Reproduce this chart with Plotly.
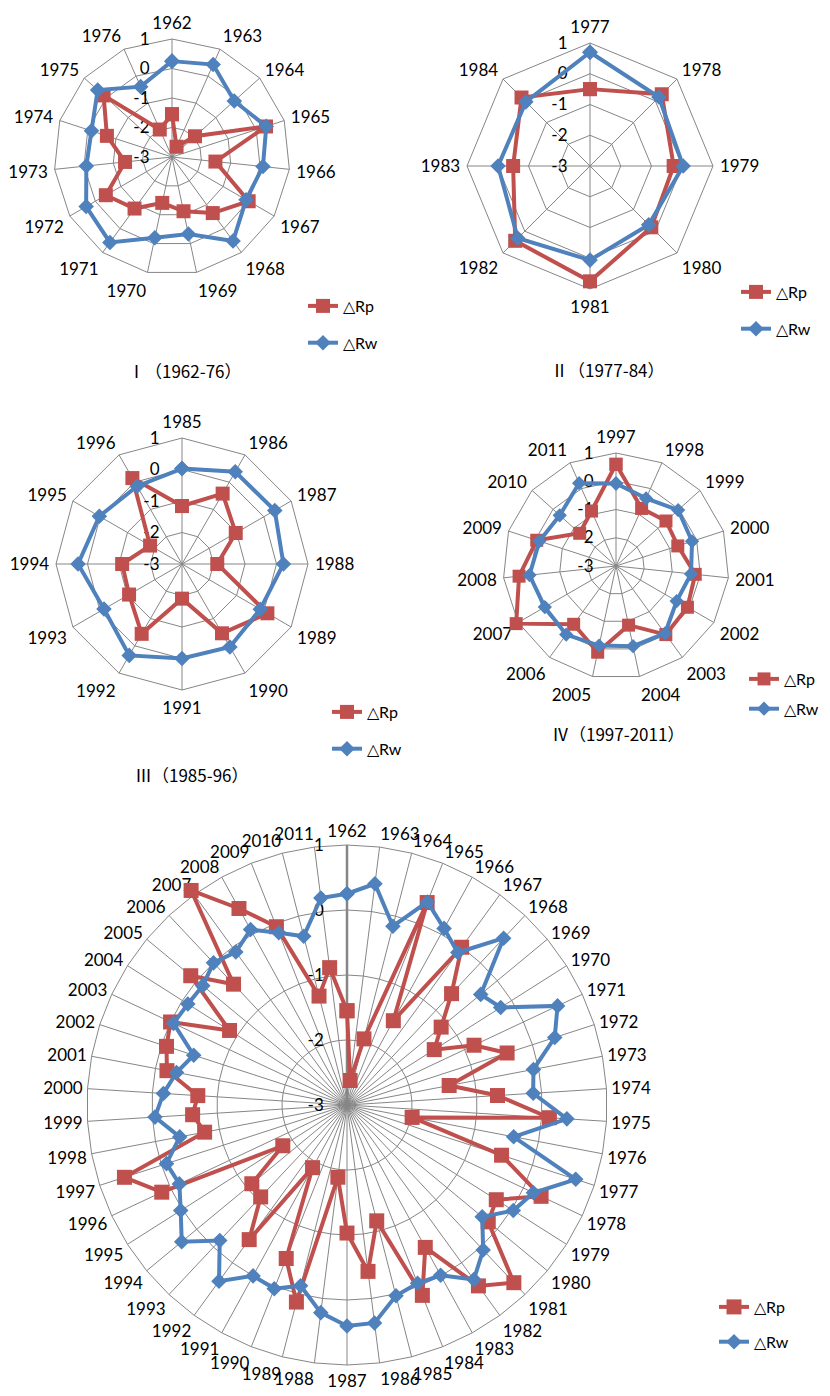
import plotly.graph_objects as go

# ---------------- data ----------------
years = [str(y) for y in range(1962, 2012)]

delta_rp = [
    -1.55, -2.62, -1.95, 0.35, -1.52, 0.00, -0.65, -1.12, -1.41, -0.84,   # 1962-1971
    -0.41, -1.40, -0.68, 0.12, -1.98, -0.50, 0.30, -0.28, -0.18, 0.75,    # 1972-1981
    0.44, -0.50, 0.15, -1.16, -0.42, -1.03, -1.88, 0.13, -0.46, -1.90,    # 1982-1991
    -0.44, -1.06, -1.10, -1.83, 0.15, 0.60, -0.77, -0.62, -0.70, -0.18,   # 1992-2001
    -0.08, 0.00, -0.86, 0.12, -0.45, 1.08, 0.45, -0.05, -1.27, -0.87,     # 2002-2011
]
delta_rw = [
    0.25, 0.43, -0.16, 0.36, 0.10, -0.10, 0.52, -0.33, -0.20, 0.58,       # 1962-1971
    0.36, -0.08, -0.13, 0.39, -0.39, 0.70, 0.17, 0.03, -0.30, 0.06,       # 1972-1981
    0.32, -0.01, -0.05, 0.03, 0.38, 0.40, 0.22, -0.13, 0.04, 0.00,        # 1982-1991
    0.35, -0.14, 0.30, 0.03, -0.15, -0.08, -0.38, -0.04, -0.17, -0.33,    # 1992-2001
    -0.52, -0.05, -0.10, -0.12, 0.00, -0.09, 0.08, -0.15, -0.32, 0.21,    # 2002-2011
]

series_names = ["△Rp", "△Rw"]
radial_ticks = [-3, -2, -1, 0, 1]
radial_labels = ["-3", "-2", "-1", "0", "1"]
period_titles = ["Ⅰ（1962-76）", "Ⅱ（1977-84）", "Ⅲ（1985-96）", "Ⅳ（1997-2011）", None]
period_ranges = [(1962, 1976), (1977, 1984), (1985, 1996), (1997, 2011), (1962, 2011)]

# ---------------- style / layout ----------------
RED = "#C0504D"
BLUE = "#4F81BD"
GRID = "#868686"
PAGE_W, PAGE_H = 830, 1396
OFF = 8                         # default page body margin
W, H = PAGE_W - OFF, PAGE_H - OFF
FONT = "Lato, 'Liberation Sans', Arial, sans-serif"
R_MIN, R_MAX = -3, 1            # grid range
R_MAX_DATA = 1.25               # data overlay range (same scale, avoids clipping)
SCALE = (R_MAX_DATA - R_MIN) / (R_MAX - R_MIN)


def fx(px):
    return (px - OFF) / W


def fy(py):
    return 1 - (py - OFF) / H


# page-pixel geometry of each panel
panels = [
    dict(cx=172, cy=157, R=118, leg=(303, 289), gap=13, title=(185, 370), tl=3, ms=(14, 12)),
    dict(cx=590, cy=166, R=123, leg=(736, 275), gap=13, title=(608, 369), tl=3, ms=(14, 12)),
    dict(cx=182, cy=564, R=126, leg=(327, 695), gap=13, title=(192, 774), tl=3, ms=(14, 12)),
    dict(cx=616, cy=566, R=113, leg=(744, 662), gap=6, title=(618, 733), tl=3, ms=(13, 11)),
    dict(cx=347, cy=1105, R=260, leg=(714, 1290), gap=11, title=None, tl=1, ms=(15, 12)),
]
n = len(panels)


def dom(cx, cy, R):
    return dict(x=[fx(cx - R), fx(cx + R)], y=[fy(cy + R), fy(cy - R)])


fig = go.Figure()
layout = {}
annotations = []

for i, (p, (y0, y1), ttl) in enumerate(zip(panels, period_ranges, period_titles)):
    idx = [k for k, y in enumerate(years) if y0 <= int(y) <= y1]
    cats = [years[k] for k in idx]
    rp = [delta_rp[k] for k in idx]
    rw = [delta_rw[k] for k in idx]
    theta = cats + cats[:1]
    gname = "polar" if i == 0 else f"polar{i + 1}"      # grid subplot
    dname = f"polar{n + i + 1}"                          # data overlay subplot
    lname = "legend" if i == 0 else f"legend{i + 1}"

    # invisible trace so the grid subplot knows its categories
    fig.add_trace(go.Scatterpolar(
        r=rp, theta=cats, mode="lines", line=dict(color="rgba(0,0,0,0)", width=0),
        showlegend=False, hoverinfo="skip", subplot=gname,
    ))
    fig.add_trace(go.Scatterpolar(
        r=rp + rp[:1], theta=theta, mode="lines+markers", name=series_names[0],
        line=dict(color=RED, width=4),
        marker=dict(symbol="square", size=p["ms"][0], color=RED),
        subplot=dname, legend=lname, legendgroup=f"rp{i}", cliponaxis=False,
    ))
    fig.add_trace(go.Scatterpolar(
        r=rw + rw[:1], theta=theta, mode="lines+markers", name=series_names[1],
        line=dict(color=BLUE, width=4),
        marker=dict(symbol="diamond", size=p["ms"][1], color=BLUE),
        subplot=dname, legend=lname, legendgroup=f"rw{i}", cliponaxis=False,
    ))

    cx, cy, R = p["cx"], p["cy"], p["R"]
    layout[gname] = dict(
        domain=dom(cx, cy, R),
        gridshape="linear",
        bgcolor="white",
        angularaxis=dict(
            type="category", categoryarray=cats, rotation=90, direction="clockwise",
            showline=True, linecolor=GRID, linewidth=1,
            showgrid=True, gridcolor=GRID, gridwidth=1,
            ticks="outside", ticklen=p["tl"], tickcolor="rgba(0,0,0,0)",
            tickfont=dict(family=FONT, size=17, color="#000"),
        ),
        radialaxis=dict(
            range=[R_MIN, R_MAX], tickvals=radial_ticks, ticktext=radial_labels,
            angle=90, tickangle=90, side="counterclockwise",
            showgrid=True, gridcolor=GRID, gridwidth=1,
            showline=(i == 4), linecolor=GRID, linewidth=2.5,
            ticks="outside", ticklen=16, tickcolor="rgba(0,0,0,0)",
            tickfont=dict(family=FONT, size=17, color="#000"),
        ),
    )
    layout[dname] = dict(
        domain=dom(cx, cy, R * SCALE),
        gridshape="circular",
        bgcolor="rgba(0,0,0,0)",
        angularaxis=dict(type="category", categoryarray=cats, rotation=90,
                         direction="clockwise", visible=False),
        radialaxis=dict(range=[R_MIN, R_MAX_DATA], visible=False),
    )
    lx, ly = p["leg"]
    layout[lname] = dict(
        x=fx(lx), y=fy(ly), xanchor="left", yanchor="top",
        bgcolor="rgba(0,0,0,0)", tracegroupgap=p["gap"], traceorder="grouped",
        font=dict(family=FONT, size=16, color="#000"),
    )
    if ttl:
        tx, ty = p["title"]
        annotations.append(dict(
            text=ttl, x=fx(tx), y=fy(ty), xref="paper", yref="paper",
            xanchor="center", yanchor="middle", showarrow=False,
            font=dict(family="'Noto Sans CJK SC', sans-serif", size=17, color="#000"),
        ))

fig.update_layout(
    width=W, height=H, margin=dict(l=0, r=0, t=0, b=0),
    paper_bgcolor="white", plot_bgcolor="white",
    showlegend=True, annotations=annotations, **layout,
)

fig.write_html("out.html")
